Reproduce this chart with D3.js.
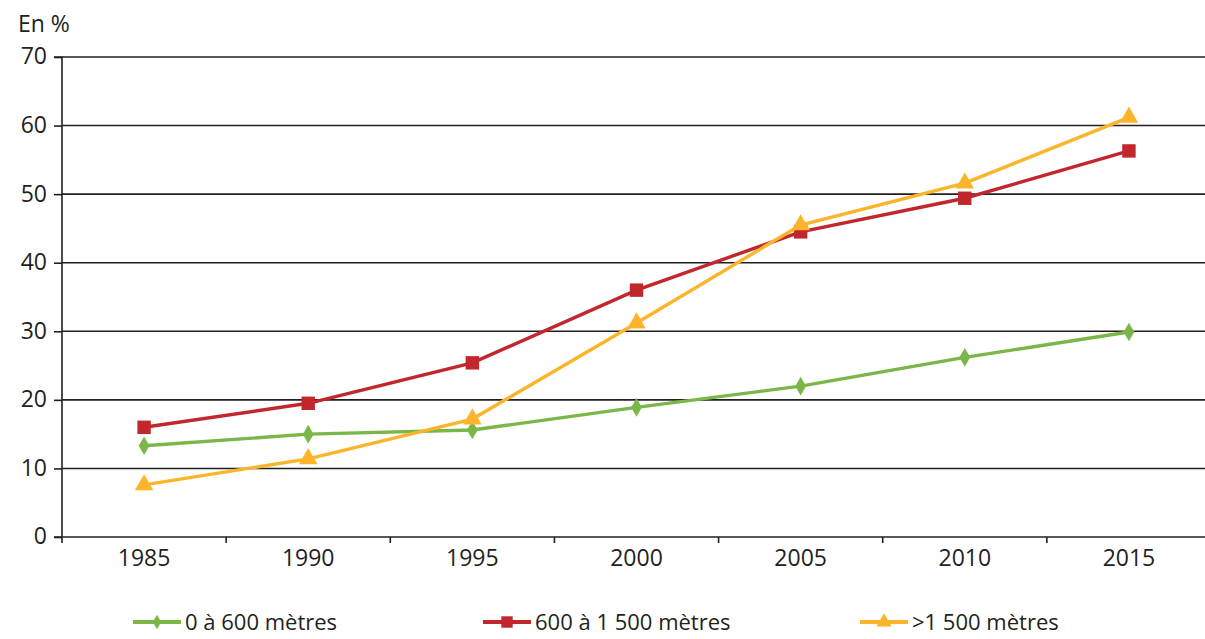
<!DOCTYPE html>
<html><head><meta charset="utf-8">
<script src="https://cdn.jsdelivr.net/npm/d3@7"></script>
<style>
body{margin:0;background:#fff;}
text{font-family:"Open Sans","DejaVu Sans",sans-serif;fill:#231f20;}
</style></head>
<body><svg id="c" width="1205" height="639"></svg>
<script>
const years = ["1985","1990","1995","2000","2005","2010","2015"];
const yTicks = [0,10,20,30,40,50,60,70];
const low = [13.3,15.0,15.6,18.9,22.0,26.2,29.9];
const mid = [16.0,19.5,25.4,36.0,44.5,49.4,56.3];
const high = [7.6,11.4,17.2,31.2,45.5,51.6,61.2];
const seriesNames = ["0 à 600 mètres","600 à 1 500 mètres",">1 500 mètres"];
const colors = ["#7ab648","#c1272d","#fcb52a"];
const symbols = [d3.symbolDiamond, d3.symbolSquare, d3.symbolTriangle];
const series = [low, mid, high];

(function(){
const svg = d3.select("#c");
const pL = 62, pR = 1211, pT = 57, pB = 537;
const FS = 23;
const x = d3.scaleBand().domain(years).range([pL, pR]);
const y = d3.scaleLinear().domain([0,70]).range([pB, pT]);

// gridlines
svg.append("g").selectAll("line").data(yTicks.filter(d=>d>0)).join("line")
  .attr("x1", pL).attr("x2", 1205).attr("y1", d=>y(d)).attr("y2", d=>y(d))
  .attr("stroke","#231f20").attr("stroke-width",1.6);

// y axis
const ya = svg.append("g").attr("transform",`translate(${pL},0)`)
  .call(d3.axisLeft(y).tickValues(yTicks).tickSize(8).tickPadding(7).tickFormat(d3.format("d")));
ya.select(".domain").attr("stroke","#231f20").attr("stroke-width",1.6).attr("d",`M-8,${pT}H0V${pB+6}`);
ya.selectAll(".tick line").attr("stroke","#231f20").attr("stroke-width",1.6);
ya.selectAll("text").attr("font-size",FS).attr("fill","#231f20").attr("font-family","Open Sans, DejaVu Sans, sans-serif").attr("dy","0.3em");

// x axis
const xa = svg.append("g").attr("transform",`translate(0,${pB})`)
  .call(d3.axisBottom(x).tickSize(0).tickPadding(12));
xa.select(".domain").attr("stroke","#231f20").attr("stroke-width",1.6).attr("d",`M${pL-8},0H1205`);
xa.selectAll("text").attr("font-size",FS).attr("fill","#231f20").attr("font-family","Open Sans, DejaVu Sans, sans-serif").attr("dy","0.75em");
// boundary ticks
svg.append("g").selectAll("line").data(years.slice(1)).join("line")
  .attr("x1",d=>x(d)).attr("x2",d=>x(d)).attr("y1",pB).attr("y2",pB+6)
  .attr("stroke","#231f20").attr("stroke-width",1.6);

// y title
svg.append("text").attr("x",18).attr("y",32).attr("font-size",FS).text("En %");

const cx = d => x(d) + x.bandwidth()/2;
const line = d3.line().x((d,i)=>cx(years[i])).y(d=>y(d));
const sizes = [100, 180, 150];

series.forEach((s,k)=>{
  const g = svg.append("g");
  g.append("path").datum(s).attr("d",line).attr("fill","none")
    .attr("stroke",colors[k]).attr("stroke-width",3.4);
  g.selectAll("path.m").data(s).join("path").attr("class","m")
    .attr("transform",(d,i)=>`translate(${cx(years[i])},${y(d)})`)
    .attr("d", d3.symbol().type(symbols[k]).size(sizes[k]))
    .attr("fill",colors[k]);
});

// legend
const legX = [133, 483, 860];
const legY = 622;
const legSizes = [60, 130, 100];
seriesNames.forEach((n,k)=>{
  const g = svg.append("g");
  g.append("line").attr("x1",legX[k]).attr("x2",legX[k]+48).attr("y1",legY).attr("y2",legY)
    .attr("stroke",colors[k]).attr("stroke-width",4);
  g.append("path").attr("transform",`translate(${legX[k]+24},${legY})`)
    .attr("d", d3.symbol().type(symbols[k]).size(legSizes[k])).attr("fill",colors[k]);
  g.append("text").attr("x",legX[k]+52).attr("y",legY+8).attr("font-size",22).text(n);
});
})();
</script></body></html>
